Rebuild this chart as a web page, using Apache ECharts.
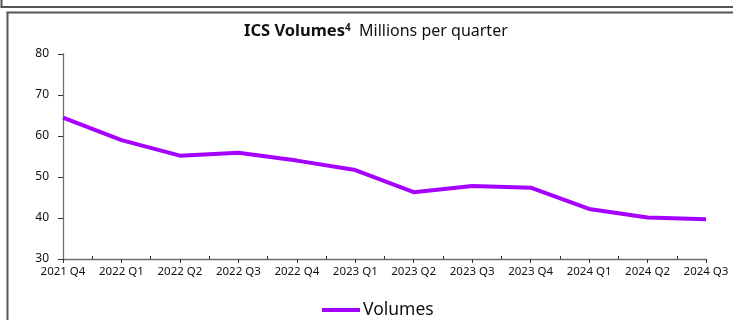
<!DOCTYPE html>
<html><head><meta charset="utf-8">
<script src="https://cdn.jsdelivr.net/npm/echarts@6/dist/echarts.min.js"></script>
<style>html,body{margin:0;padding:0;background:#fff;overflow:hidden}#c{width:733px;height:320px}</style>
</head><body><div id="c"></div>
<script>
const categories = ['2021 Q4','2022 Q1','2022 Q2','2022 Q3','2022 Q4','2023 Q1','2023 Q2','2023 Q3','2023 Q4','2024 Q1','2024 Q2','2024 Q3'];
const volumes = [64.5, 59.0, 55.2, 55.9, 54.0, 51.7, 46.3, 47.8, 47.4, 42.2, 40.1, 39.7];
const yTicks = [30, 40, 50, 60, 70, 80];
const seriesName = 'Volumes';

// half-step positions for the inner minor ticks between categories
const halfSteps = [];
categories.forEach((c, i) => { halfSteps.push(c); if (i < categories.length - 1) halfSteps.push(c + '+'); });

const font = '"Noto Sans", sans-serif';
const axisColor = '#6f6f6f';
const chart = echarts.init(document.getElementById('c'), null, {renderer: 'canvas'});
chart.setOption({
  animation: false,
  title: {
    text: '{b|ICS Volumes}{s|4}{r|  Millions per quarter}',
    left: 244, top: 23, padding: 0,
    textStyle: {
      fontWeight: 'normal',
      rich: {
        b: {fontFamily: font, fontWeight: 'bold', fontSize: 16.5, color: '#111'},
        s: {fontFamily: font, fontWeight: 'bold', fontSize: 10, color: '#111', verticalAlign: 'top', padding: [0,0,6,0]},
        r: {fontFamily: font, fontWeight: 'normal', fontSize: 16, color: '#111'}
      }
    }
  },
  legend: {
    bottom: 1, left: 322, padding: 0,
    itemWidth: 38, itemHeight: 4, itemGap: 4,
    icon: 'rect',
    textStyle: {fontFamily: font, fontSize: 17.5, color: '#111', padding: [0,0,0,-2]},
    data: [seriesName]
  },
  graphic: [
    {type: 'line', shape: {x1: 1.5, y1: 0, x2: 1.5, y2: 7}, style: {stroke: '#555', lineWidth: 2}, silent: true},
    {type: 'line', shape: {x1: 0.5, y1: 7, x2: 733, y2: 7}, style: {stroke: '#555', lineWidth: 2}, silent: true},
    {type: 'line', shape: {x1: 7.5, y1: 12, x2: 7.5, y2: 320}, style: {stroke: '#555', lineWidth: 2}, silent: true},
    {type: 'line', shape: {x1: 6.5, y1: 12.5, x2: 733, y2: 12.5}, style: {stroke: '#555', lineWidth: 2}, silent: true}
  ],
  grid: {left: 63, right: 27, top: 54, bottom: 61},
  xAxis: [{
    type: 'category', data: categories, boundaryGap: false,
    axisLine: {lineStyle: {color: axisColor, width: 1.3}},
    axisTick: {show: true, length: 4, lineStyle: {color: '#333'}},
    axisLabel: {fontFamily: font, fontSize: 11.5, color: '#111', margin: 7}
  }, {
    type: 'category', data: halfSteps, boundaryGap: false, position: 'bottom',
    axisLine: {show: false},
    axisTick: {show: true, inside: true, length: 3, interval: (i) => i % 2 === 1, lineStyle: {color: '#333'}},
    axisLabel: {show: false}
  }],
  yAxis: {
    type: 'value', min: yTicks[0], max: yTicks[yTicks.length - 1], interval: 10,
    splitLine: {show: false},
    axisLine: {show: true, lineStyle: {color: axisColor, width: 1.3}},
    axisTick: {show: true, length: 5, lineStyle: {color: '#333'}},
    axisLabel: {fontFamily: font, fontSize: 12, color: '#111', margin: 14}
  },
  series: [{
    name: seriesName, type: 'line', data: volumes,
    xAxisIndex: 0,
    symbol: 'none', lineStyle: {color: '#A600FF', width: 4},
    itemStyle: {color: '#A600FF'}
  }]
});
</script></body></html>
